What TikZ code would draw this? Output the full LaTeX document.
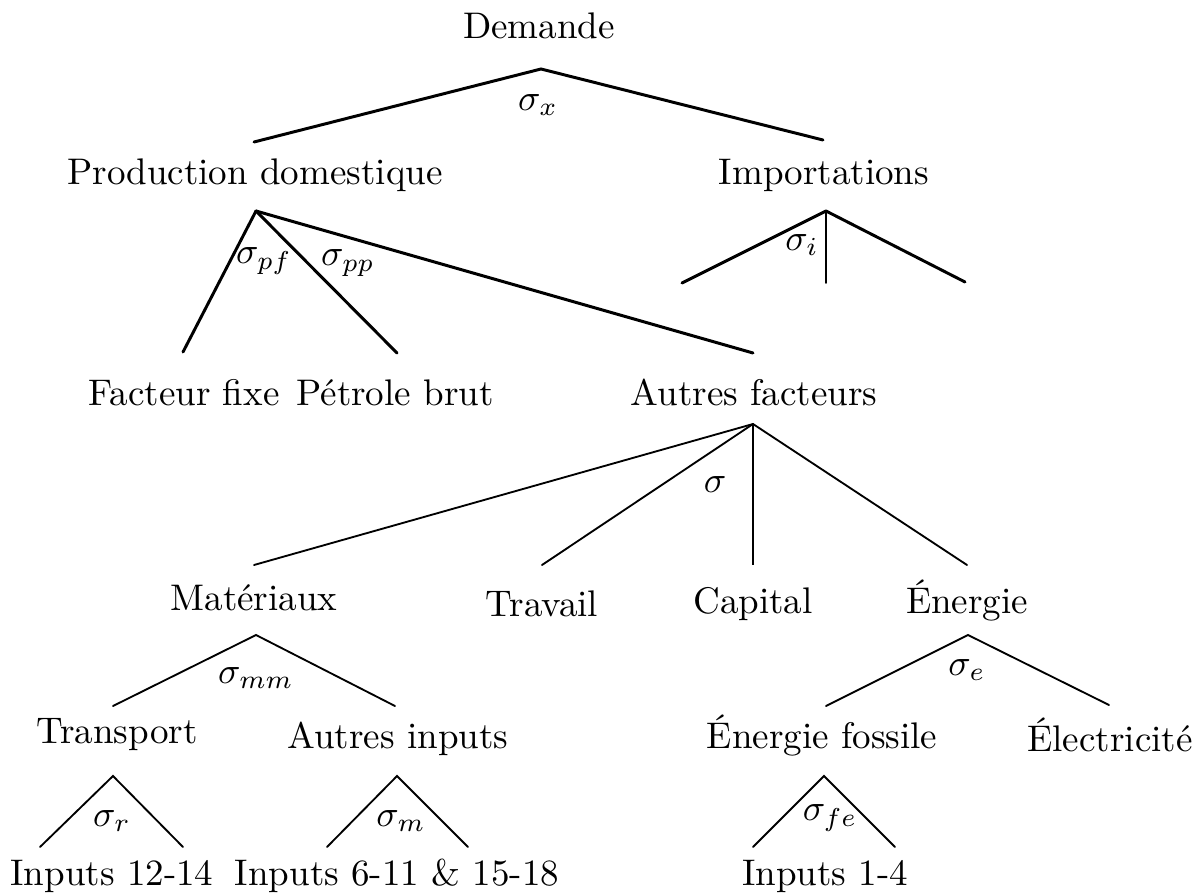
\documentclass[tikz,border=0pt]{standalone}
\begin{document}
\begin{tikzpicture}[x=0.27pt,y=-0.27pt,
  lbl/.style={anchor=base,inner sep=0pt,font=\fontsize{10}{12}\selectfont},
  sig/.style={inner sep=0pt,font=\fontsize{10}{12}\selectfont},
  thickedge/.style={line width=0.8pt,line cap=round},
  thinedge/.style={line width=0.5pt,line cap=round}]
\useasboundingbox (0,0) rectangle (1202,894);
% text nodes
\node[lbl] (dem) at (539,39) {Demande};
\node[lbl] (prod) at (255,185) {Production domestique};
\node[lbl] (imp) at (824,185) {Importations};
\node[lbl] (ff) at (184,405) {Facteur fixe};
\node[lbl] (pb) at (395,405) {P\'etrole brut};
\node[lbl] (af) at (754,405) {Autres facteurs};
\node[lbl] (mat) at (254,610) {Mat\'eriaux};
\node[lbl] (trav) at (542,616) {Travail};
\node[lbl] (cap) at (753,613) {Capital};
\node[lbl] (ene) at (967,613) {\'Energie};
\node[lbl] (tr) at (117,743) {Transport};
\node[lbl] (ai) at (398,748) {Autres inputs};
\node[lbl] (ef) at (822,748) {\'Energie fossile};
\node[lbl] (el) at (1110,751) {\'Electricit\'e};
\node[lbl] (i1) at (112,885) {Inputs 12-14};
\node[lbl] (i2) at (397,885) {Inputs 6-11 \& 15-18};
\node[lbl] (i3) at (825,885) {Inputs 1-4};
% apex and end coordinates
\coordinate (demA) at (541,69);
\coordinate (prodT) at (254,142);
\coordinate (impT) at (823,140);
\coordinate (prodA) at (256,211);
\coordinate (ffT) at (183,352);
\coordinate (pbT) at (397,353);
\coordinate (afT) at (753,353);
\coordinate (impA) at (826,211);
\coordinate (imp1) at (682,283);
\coordinate (imp2) at (826,283);
\coordinate (imp3) at (965,282);
\coordinate (afA) at (753,424);
\coordinate (matT) at (254,565);
\coordinate (travT) at (542,565);
\coordinate (capT) at (753,565);
\coordinate (eneT) at (967,565);
\coordinate (matA) at (256,635);
\coordinate (trT) at (113,706);
\coordinate (aiT) at (395,706);
\coordinate (eneA) at (968,635);
\coordinate (efT) at (826,706);
\coordinate (elT) at (1109,705);
\coordinate (trA) at (113,776);
\coordinate (i1T) at (40,847);
\coordinate (i1U) at (183,847);
\coordinate (aiA) at (397,776);
\coordinate (i2T) at (327,847);
\coordinate (i2U) at (468,847);
\coordinate (efA) at (824,776);
\coordinate (i3T) at (753,847);
\coordinate (i3U) at (895,847);
% connectors
\draw[thickedge] (prodT) -- (demA) -- (impT);
\draw[thickedge] (prodA) -- (ffT);
\draw[thickedge] (prodA) -- (pbT);
\draw[thickedge] (prodA) -- (afT);
\draw[thickedge] (impA) -- (imp1);
\draw[thinedge] (impA) -- (imp2);
\draw[thickedge] (impA) -- (imp3);
\draw[thinedge] (afA) -- (matT);
\draw[thinedge] (afA) -- (travT);
\draw[line width=0.4pt] (afA) -- (capT);
\draw[thinedge] (afA) -- (eneT);
\draw[thinedge] (trT) -- (matA) -- (aiT);
\draw[thinedge] (efT) -- (eneA) -- (elT);
\draw[thinedge] (i1T) -- (trA) -- (i1U);
\draw[thinedge] (i2T) -- (aiA) -- (i2U);
\draw[thinedge] (i3T) -- (efA) -- (i3U);
% sigma labels
\node[sig] (sx) at (538,105) {$\sigma_x$};
\node[sig] (spf) at (264,261) {$\sigma_{pf}$};
\node[sig] (spp) at (348,263) {$\sigma_{pp}$};
\node[sig] (si) at (802,245) {$\sigma_i$};
\node[sig] (s) at (715,485) {$\sigma$};
\node[sig] (smm) at (256,678) {$\sigma_{mm}$};
\node[sig] (se) at (967,670) {$\sigma_e$};
\node[sig] (sr) at (112,821) {$\sigma_r$};
\node[sig] (sm) at (401,821) {$\sigma_m$};
\node[sig] (sfe) at (830,818) {$\sigma_{fe}$};
\end{tikzpicture}
\end{document}
